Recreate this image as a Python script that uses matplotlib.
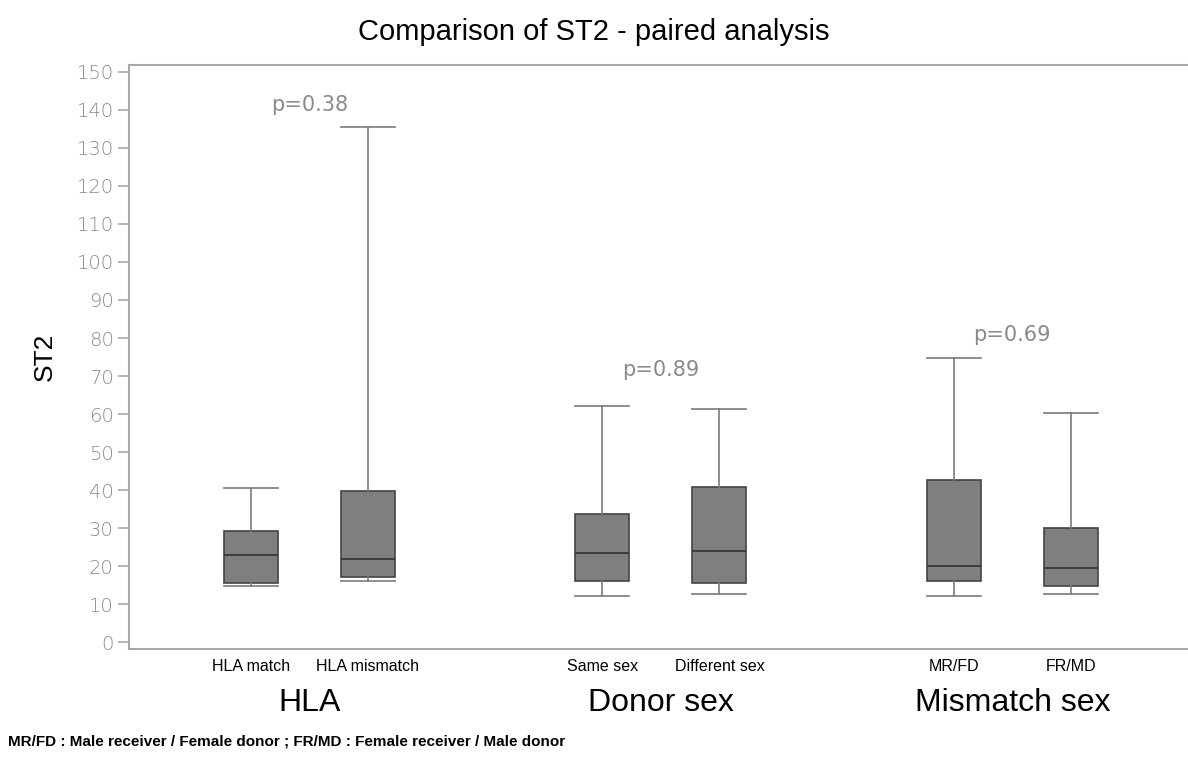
import matplotlib.pyplot as plt
from matplotlib.transforms import blended_transform_factory

# values
labels = ['HLA match', 'HLA mismatch', 'Same sex', 'Different sex', 'MR/FD', 'FR/MD']
positions = [0, 1, 3, 4, 6, 7]
whislo = [14.7, 16.1, 12.1, 12.6, 12.1, 12.6]
q1 = [15.5, 17.1, 16.1, 15.5, 16.1, 14.7]
med = [22.9, 21.8, 23.4, 24.0, 20.0, 19.5]
q3 = [29.2, 39.7, 33.7, 40.8, 42.6, 30.0]
whishi = [40.5, 135.5, 62.1, 61.3, 74.7, 60.3]

groups = ['HLA', 'Donor sex', 'Mismatch sex']
group_pos = [0.5, 3.5, 6.5]
pvals = ['p=0.38', 'p=0.89', 'p=0.69']
pval_y = [141.3, 71.6, 80.8]

stats = []
for i in range(len(labels)):
    stats.append({'label': labels[i], 'whislo': whislo[i], 'q1': q1[i], 'med': med[i],
                  'q3': q3[i], 'whishi': whishi[i], 'fliers': []})

fig = plt.figure(figsize=(11.88, 7.58), dpi=100)
ax = fig.add_axes([0.1086, 0.1438, 0.8914, 0.7704])

ax.bxp(stats, positions=positions, widths=0.46, patch_artist=True, showfliers=False,
       boxprops=dict(facecolor='#7f7f7f', edgecolor='#444444', linewidth=1.2),
       medianprops=dict(color='#333333', linewidth=1.2),
       whiskerprops=dict(color='#7a7a7a', linewidth=1.2),
       capprops=dict(color='#7a7a7a', linewidth=1.2),
       capwidths=0.46)

ax.set_xlim(-1.04, 8.0)
ax.set_ylim(-1.8, 151.8)
ax.set_yticks(range(0, 151, 10))

for s in ['top', 'bottom', 'left']:
    ax.spines[s].set_color('#a8a8a8')
    ax.spines[s].set_linewidth(1.5)
ax.spines['right'].set_visible(False)

ax.tick_params(axis='y', direction='out', length=8, width=1.2, color='#a8a8a8',
               labelcolor='#8a8a8a', labelsize=14, pad=3)
ax.tick_params(axis='x', length=0, pad=7)
ax.set_xticks(positions)
ax.set_xticklabels(labels, fontsize=11.5, family='Liberation Sans', color='black')
for t in ax.get_yticklabels():
    t.set_family('DejaVu Sans')
    t.set_fontweight('light')

ax.set_ylabel('ST2', fontsize=19, family='Liberation Sans', labelpad=14)

for x, y, t in zip(group_pos, pval_y, pvals):
    ax.text(x, y, t, ha='center', va='center', fontsize=15, color='#8a8a8a')

trans = blended_transform_factory(ax.transData, fig.transFigure)
for x, g in zip(group_pos, groups):
    ax.text(x, 1 - 703 / 758, g, transform=trans, ha='center', va='center',
            fontsize=23, family='Liberation Sans')

fig.text(0.5, 1 - 32 / 758, 'Comparison of ST2 - paired analysis', ha='center', va='center',
         fontsize=21, family='Liberation Sans')
fig.text(8 / 1188, 1 - 741 / 758,
         'MR/FD : Male receiver / Female donor ; FR/MD : Female receiver / Male donor',
         ha='left', va='center', fontsize=11, fontweight='bold', family='Liberation Sans')

fig.savefig('out.png', dpi=100)
